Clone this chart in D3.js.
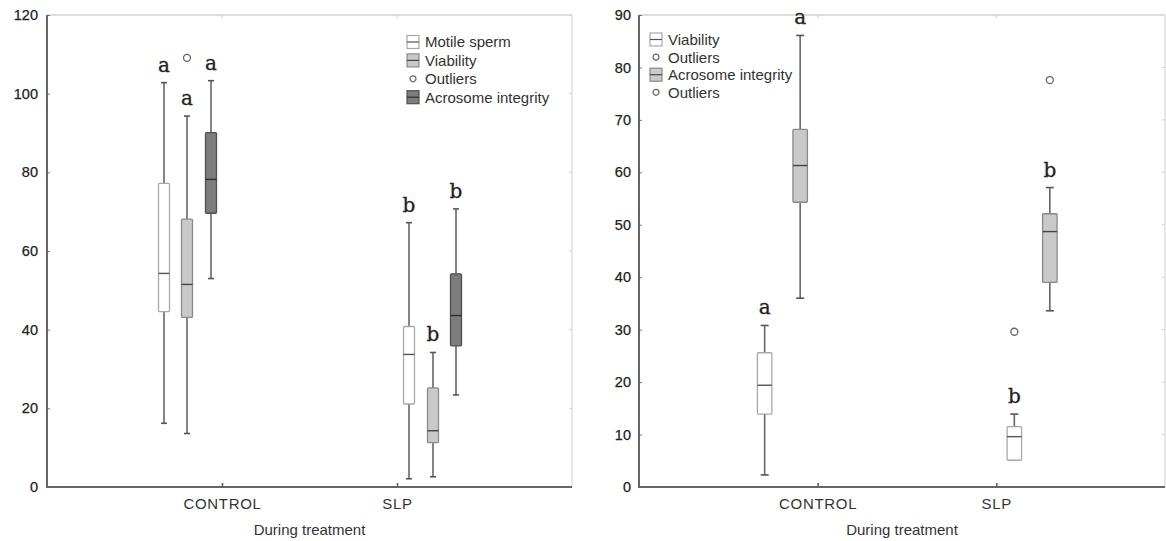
<!DOCTYPE html>
<html>
<head>
<meta charset="utf-8">
<script src="https://cdn.jsdelivr.net/npm/d3@7"></script>
<style>
  html, body { margin: 0; padding: 0; background: #fff; }
  svg { display: block; }
</style>
</head>
<body>
<svg id="chart" width="1166" height="541"></svg>
<script>
// ---------------- DATA ----------------
const categories = ["CONTROL", "SLP"];
const xAxisTitle = "During treatment";

// Left panel: [lower whisker, Q1, median, Q3, upper whisker] per category
const leftTicks = [0, 20, 40, 60, 80, 100, 120];
const leftMotile     = [[16.2, 44.6, 54.3, 77.2, 102.8], [2.1, 21.1, 33.7, 40.8, 67.2]];
const leftViability  = [[13.6, 43.1, 51.5, 68.1, 94.3],  [2.6, 11.3, 14.3, 25.2, 34.2]];
const leftAcrosome   = [[53.0, 69.6, 78.2, 90.1, 103.3], [23.4, 35.9, 43.6, 54.2, 70.7]];
const leftMotileOut    = [[], []];
const leftViabilityOut = [[109.1], []];
const leftAcrosomeOut  = [[], []];
const leftMotileLetters    = ["a", "b"];
const leftViabilityLetters = ["a", "b"];
const leftAcrosomeLetters  = ["a", "b"];
const leftLegend = ["Motile sperm", "Viability", "Outliers", "Acrosome integrity"];

// Right panel
const rightTicks = [0, 10, 20, 30, 40, 50, 60, 70, 80, 90];
const rightViability = [[2.3, 13.9, 19.4, 25.6, 30.8], [5.1, 5.1, 9.6, 11.5, 13.9]];
const rightAcrosome  = [[36.0, 54.3, 61.3, 68.2, 86.1], [33.6, 39.0, 48.7, 52.1, 57.1]];
const rightViabilityOut = [[], [29.6]];
const rightAcrosomeOut  = [[], [77.6]];
const rightViabilityLetters = ["a", "b"];
const rightAcrosomeLetters  = ["a", "b"];
const rightLegend = ["Viability", "Outliers", "Acrosome integrity", "Outliers"];

// ---------------- STYLE / LAYOUT ----------------
const styles = {
  white: { fill: "#ffffff", stroke: "#a8a8a8", median: "#555" },
  light: { fill: "#c9c9c9", stroke: "#8a8a8a", median: "#444" },
  dark:  { fill: "#7d7d7d", stroke: "#505050", median: "#2e2e2e" }
};
const sansFont = "'Liberation Sans', Arial, Helvetica, sans-serif";
const serifFont = "'DejaVu Serif', 'Liberation Serif', serif";

const svg = d3.select("#chart");

function drawPanel(cfg) {
  const g = svg.append("g");
  const y = d3.scaleLinear().domain([0, cfg.yMax]).range([cfg.bottom, cfg.top]);
  const x = d3.scalePoint().domain(categories).range(cfg.xRange).padding(1);

  // frame: light top & right
  g.append("line").attr("x1", cfg.left).attr("x2", cfg.right).attr("y1", cfg.top).attr("y2", cfg.top)
    .attr("stroke", "#d2d2d2").attr("stroke-width", 1.5);
  g.append("line").attr("x1", cfg.right).attr("x2", cfg.right).attr("y1", cfg.top).attr("y2", cfg.bottom)
    .attr("stroke", "#d8d8d8").attr("stroke-width", 1.2);

  // faint inward ticks on right and top borders
  g.selectAll(".rt").data(cfg.ticks.slice(1, -1)).join("line")
    .attr("x1", cfg.right - 3).attr("x2", cfg.right)
    .attr("y1", d => y(d)).attr("y2", d => y(d))
    .attr("stroke", "#d0d0d0");
  g.selectAll(".tt").data(categories).join("line")
    .attr("x1", d => x(d)).attr("x2", d => x(d))
    .attr("y1", cfg.top).attr("y2", cfg.top + 3)
    .attr("stroke", "#d0d0d0");

  // y axis
  const yAxis = d3.axisLeft(y).tickValues(cfg.ticks).tickSize(-3).tickPadding(cfg.labelPad);
  const ya = g.append("g").attr("transform", `translate(${cfg.left},0)`).call(yAxis);
  ya.select(".domain").remove();
  ya.selectAll(".tick line").attr("stroke", "#777");
  ya.selectAll(".tick text").attr("font-family", sansFont).attr("font-size", 14.5)
    .attr("fill", "#222").attr("stroke", "#222").attr("stroke-width", 0.25);

  // x axis
  const xAxis = d3.axisBottom(x).tickSize(-4).tickPadding(11.5);
  const xa = g.append("g").attr("transform", `translate(0,${cfg.bottom})`).call(xAxis);
  xa.select(".domain").remove();
  xa.selectAll(".tick line").attr("stroke", "#555").attr("stroke-width", 1.5);
  xa.selectAll(".tick text").attr("font-family", sansFont).attr("font-size", 15)
    .attr("letter-spacing", "0.7px").attr("fill", "#333");

  // axis lines (dark)
  g.append("line").attr("x1", cfg.left).attr("x2", cfg.left).attr("y1", cfg.top).attr("y2", cfg.bottom + 1)
    .attr("stroke", "#666").attr("stroke-width", 2);
  g.append("line").attr("x1", cfg.left - 1).attr("x2", cfg.right).attr("y1", cfg.bottom).attr("y2", cfg.bottom)
    .attr("stroke", "#666").attr("stroke-width", 2);

  // x title
  g.append("text").attr("x", (cfg.left + cfg.right) / 2).attr("y", 535)
    .attr("text-anchor", "middle").attr("font-family", sansFont).attr("font-size", 15)
    .attr("fill", "#333").text(xAxisTitle);

  // boxes
  cfg.series.forEach((s, si) => {
    const st = styles[s.style];
    categories.forEach((c, ci) => {
      const v = s.values[ci];
      const cx = x(c) + cfg.offsets[ci][si];
      const hw = cfg.boxW / 2, cw = cfg.capW / 2;
      const bg = g.append("g");
      // whiskers
      bg.append("line").attr("x1", cx).attr("x2", cx).attr("y1", y(v[4])).attr("y2", y(v[3]))
        .attr("stroke", "#666").attr("stroke-width", 1.6);
      bg.append("line").attr("x1", cx).attr("x2", cx).attr("y1", y(v[1])).attr("y2", y(v[0]))
        .attr("stroke", "#666").attr("stroke-width", 1.6);
      bg.append("line").attr("x1", cx - cw).attr("x2", cx + cw).attr("y1", y(v[4])).attr("y2", y(v[4]))
        .attr("stroke", "#555").attr("stroke-width", 1.6);
      bg.append("line").attr("x1", cx - cw).attr("x2", cx + cw).attr("y1", y(v[0])).attr("y2", y(v[0]))
        .attr("stroke", "#555").attr("stroke-width", 1.6);
      // box
      bg.append("rect").attr("x", cx - hw).attr("y", y(v[3]))
        .attr("width", cfg.boxW).attr("height", Math.max(0.5, y(v[1]) - y(v[3])))
        .attr("fill", st.fill).attr("stroke", st.stroke).attr("stroke-width", 1.3).attr("rx", 1);
      // median
      bg.append("line").attr("x1", cx - hw).attr("x2", cx + hw).attr("y1", y(v[2])).attr("y2", y(v[2]))
        .attr("stroke", st.median).attr("stroke-width", 1.4);
      // outliers
      bg.selectAll("circle").data(s.outliers[ci]).join("circle")
        .attr("cx", cx).attr("cy", d => y(d)).attr("r", 3.5)
        .attr("fill", "#fff").attr("stroke", "#666").attr("stroke-width", 1.3);
      // significance letter
      bg.append("text").attr("x", cx).attr("y", y(v[4]) - 11)
        .attr("text-anchor", "middle").attr("font-family", serifFont).attr("font-size", 20)
        .attr("fill", "#222").attr("stroke", "#222").attr("stroke-width", 0.3).text(s.letters[ci]);
    });
  });

  // legend
  const lg = g.append("g").attr("transform", `translate(${cfg.legendX},${cfg.legendY})`);
  cfg.legend.forEach((item, i) => {
    const row = lg.append("g").attr("transform", `translate(0,${i * cfg.legendStep})`);
    if (item.type === "box") {
      const st = styles[item.style];
      row.append("rect").attr("x", 0).attr("y", -6.5).attr("width", 12).attr("height", 13)
        .attr("fill", st.fill).attr("stroke", st.stroke).attr("stroke-width", 1.2);
      row.append("line").attr("x1", 0).attr("x2", 12).attr("y1", 0).attr("y2", 0)
        .attr("stroke", st.median).attr("stroke-width", 1.2);
    } else {
      row.append("circle").attr("cx", 6).attr("cy", 0).attr("r", 3)
        .attr("fill", "#fff").attr("stroke", "#666").attr("stroke-width", 1.2);
    }
    row.append("text").attr("x", 18).attr("y", 0).attr("dy", "0.36em")
      .attr("font-family", sansFont).attr("font-size", 15).attr("fill", "#333").text(item.label);
  });
}

drawPanel({
  left: 47, right: 572, top: 15, bottom: 487, yMax: 120, ticks: leftTicks, labelPad: 9,
  xRange: [47, 572],
  boxW: 11, capW: 6,
  offsets: [[-58, -35, -11], [12, 36, 59]],
  series: [
    { values: leftMotile, outliers: leftMotileOut, letters: leftMotileLetters, style: "white" },
    { values: leftViability, outliers: leftViabilityOut, letters: leftViabilityLetters, style: "light" },
    { values: leftAcrosome, outliers: leftAcrosomeOut, letters: leftAcrosomeLetters, style: "dark" }
  ],
  legendX: 407, legendY: 42, legendStep: 18.4,
  legend: [
    { type: "box", style: "white", label: leftLegend[0] },
    { type: "box", style: "light", label: leftLegend[1] },
    { type: "circle", label: leftLegend[2] },
    { type: "box", style: "dark", label: leftLegend[3] }
  ]
});

drawPanel({
  left: 639, right: 1165, top: 15, bottom: 487, yMax: 90, ticks: rightTicks, labelPad: 8,
  xRange: [639, 1175],
  boxW: 14.5, capW: 8,
  offsets: [[-53, -17.5], [18, 53.5]],
  series: [
    { values: rightViability, outliers: rightViabilityOut, letters: rightViabilityLetters, style: "white" },
    { values: rightAcrosome, outliers: rightAcrosomeOut, letters: rightAcrosomeLetters, style: "light" }
  ],
  legendX: 650, legendY: 39.5, legendStep: 17.6,
  legend: [
    { type: "box", style: "white", label: rightLegend[0] },
    { type: "circle", label: rightLegend[1] },
    { type: "box", style: "light", label: rightLegend[2] },
    { type: "circle", label: rightLegend[3] }
  ]
});
</script>
</body>
</html>
